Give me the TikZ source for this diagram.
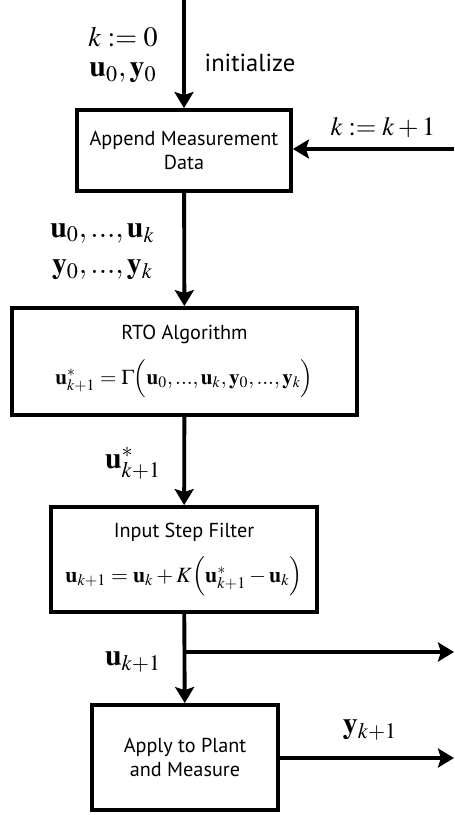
\documentclass[tikz,border=0pt]{standalone}
\usepackage{mathptmx}
\usepackage[no-math]{fontspec}
\setmainfont{PT Sans}
\usetikzlibrary{arrows.meta}

\begin{document}
\begin{tikzpicture}[
    blockBox/.style={draw, line width=2.2pt, minimum width=#1, align=center, inner sep=0pt, font=\fontsize{11.5}{14}\selectfont},
    flowArrow/.style={line width=2.2pt, -{Stealth[length=0.32cm, width=0.38cm, inset=0.06cm]}},
    mathLabel/.style={font=\fontsize{17}{19}\selectfont}
  ]
                \useasboundingbox (0,0) rectangle (9.08,-16.3);
                % blocks
                \node[blockBox=4.28cm, minimum height=1.62cm] (append) at (3.68,-3.01) {Append Measurement\\Data};
                \node[blockBox=6.9cm, minimum height=2.14cm] (rto) at (3.69,-7.23) {RTO Algorithm\\[8pt]\fontsize{12}{14}\selectfont $\mathbf{u}^{*}_{k+1}=\Gamma\Big(\mathbf{u}_{0},...,\mathbf{u}_{k},\mathbf{y}_{0},...,\mathbf{y}_{k}\Big)$};
                \node[blockBox=5.32cm, minimum height=2.1cm] (filter) at (3.68,-11.19) {Input Step Filter\\[8pt]\fontsize{12.4}{14}\selectfont $\mathbf{u}_{k+1}=\mathbf{u}_{k}+K\Big(\mathbf{u}^{*}_{k+1}-\mathbf{u}_{k}\Big)$};
                \node[blockBox=3.72cm, minimum height=2.1cm] (plant) at (3.70,-15.15) {Apply to Plant\\and Measure};
                % free ends
                \coordinate (start) at (3.68,0);
                \coordinate (loopIn) at (9.08,-2.98);
                \coordinate (branch) at (3.68,-13.04);
                \coordinate (inputOut) at (9.08,-13.04);
                \coordinate (measOut) at (9.08,-15.16);
                % connectors
                \draw[flowArrow] (start) -- (append);
                \draw[flowArrow] (loopIn) -- (loopIn -| append.east);
                \draw[flowArrow] (append) -- (rto);
                \draw[flowArrow] (rto) -- (filter);
                \draw[flowArrow] (filter) -- (plant);
                \draw[flowArrow] (branch) -- (inputOut);
                \draw[flowArrow] (plant.east |- measOut) -- (measOut);
                % labels
                \node[mathLabel, font=\fontsize{16}{18}\selectfont] (kInit) at (2.46,-0.74) {$k:=0$};
                \node[mathLabel] (uyInit) at (2.46,-1.46) {$\mathbf{u}_{0},\mathbf{y}_{0}$};
                \node[font=\fontsize{14}{16}\selectfont] (initLabel) at (5.0,-1.26) {initialize};
                \node[mathLabel, font=\fontsize{15}{17}\selectfont] (kStep) at (7.66,-2.54) {$k:=k+1$};
                \node[mathLabel] (uHist) at (2.05,-4.66) {$\mathbf{u}_{0},...,\mathbf{u}_{k}$};
                \node[mathLabel] (yHist) at (2.05,-5.4) {$\mathbf{y}_{0},...,\mathbf{y}_{k}$};
                \node[mathLabel] (uStar) at (2.66,-9.26) {$\mathbf{u}^{*}_{k+1}$};
                \node[mathLabel] (uNext) at (2.66,-13.24) {$\mathbf{u}_{k+1}$};
                \node[mathLabel] (yNext) at (7.4,-14.6) {$\mathbf{y}_{k+1}$};
            \end{tikzpicture}
\end{document}
